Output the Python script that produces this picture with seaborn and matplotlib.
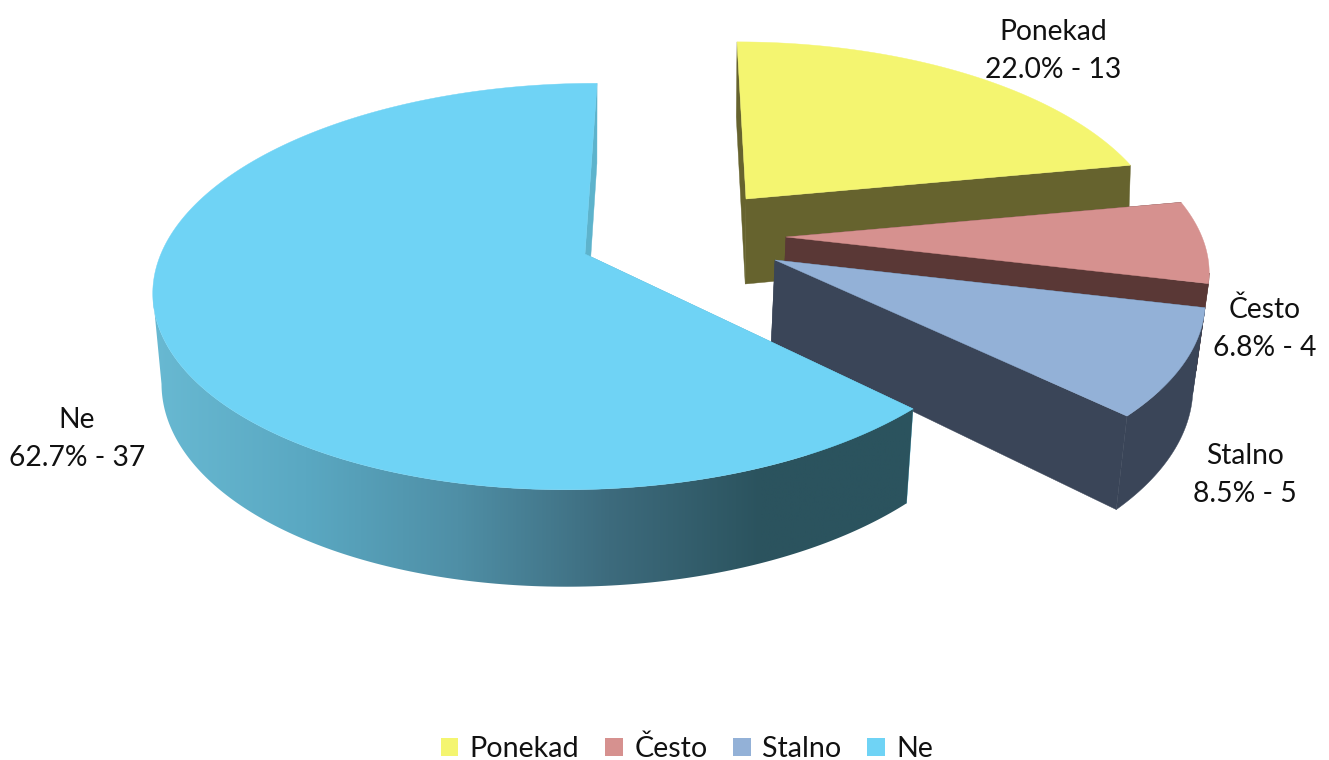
import numpy as np
import matplotlib
matplotlib.use('Agg')
import matplotlib.pyplot as plt
from matplotlib.patches import Patch, Polygon
import seaborn as sns

# Data
labels = ['Ponekad', 'Često', 'Stalno', 'Ne']
counts = [13, 4, 5, 37]

# Colours
face_colors = ['#F4F570', '#D6918F', '#93B1D7', '#6FD3F5']
wall_colors = ['#66632E', '#5A3836', '#3A4558', '#5DB3CC']
ne_wall_ramp = ['#68B9D2', '#5AA8C2', '#4F8FA6', '#3D6B7D', '#2B535E', '#2B535E']

# Perspective of every slice: apex (px), radii, depth, shear, side lean, wall height
apex_x = [746, 786, 775, 585]
apex_y = [199, 237, 260, 254]
rad_x = [408, 416, 421, 422]
rad_y = [189, 191, 191, 198]
depth_k = [0.203, 0.115, 0.21, 0.16]
shear = [-10.8, -29, 1.7, 14]
lean = [0, 0, 0, 0.005]
wall_mid = [85, 84, 83, 88.5]
wall_slope = [10, 12, 15, 8.5]
wall_lean = [0.005, 0.02, 0.02, 0.02]

# Label centres (px)
label_x = [1053, 1265, 1245, 77]
label_y = [51, 329, 475, 439]

sns.set_theme(style='white')
plt.rcParams['font.family'] = ['Lato', 'DejaVu Sans']


def project(i, t):
    u, v = np.sin(t), np.cos(t)
    w = 1 / (1 + depth_k[i] * v + lean[i] * u)
    x = apex_x[i] + (rad_x[i] * u + shear[i] * v) * w
    y = apex_y[i] - rad_y[i] * v * w
    return x, y


def lower(i, x, y, v):
    # walls drop towards a point under the chart, so they lean in a little
    h = wall_mid[i] - wall_slope[i] * v
    return x - (x - 590) * wall_lean[i], y + h


fig = plt.figure(figsize=(13.29, 7.6), dpi=100, facecolor='white')
ax = fig.add_axes([0, 0, 1, 1])

total = sum(counts)
edges = np.concatenate([[0], np.cumsum(counts)]) / total * 2 * np.pi


def cut_wall(i, x0, y0, bx0, by0, z):
    ax0, ay0 = apex_x[i], apex_y[i]
    abx, aby = lower(i, ax0, ay0, 0)
    ax.add_patch(Polygon([(ax0, ay0), (x0, y0), (bx0, by0), (abx, aby)],
                         closed=True, fc=wall_colors[i], ec=wall_colors[i], lw=0.3, zorder=z))


for i in range(len(counts)):
    base = (i + 1) * 10
    t = np.linspace(edges[i], edges[i + 1], 300)
    x, y = project(i, t)
    bx, by = lower(i, x, y, np.cos(t))

    cut_wall(i, x[0], y[0], bx[0], by[0], base)

    # outer wall, only the part turned to the viewer; Ne carries a left to right shading
    front = np.gradient(x) < 0
    if front.sum() > 1:
        outline = list(zip(x[front], y[front])) + list(zip(bx[front][::-1], by[front][::-1]))
        if labels[i] == 'Ne':
            cmap = sns.blend_palette(ne_wall_ramp, as_cmap=True)
            clip = Polygon(outline, closed=True, transform=ax.transData, fc='none', ec='none')
            ax.add_patch(clip)
            im = ax.imshow(np.linspace(0, 1, 256).reshape(1, -1), cmap=cmap, aspect='auto',
                           extent=(x[front].min(), x[front].max(), by.max(), y[front].min()),
                           zorder=base + 1)
            im.set_clip_path(clip)
        else:
            ax.add_patch(Polygon(outline, closed=True, fc=wall_colors[i], ec=wall_colors[i],
                                 lw=0.3, zorder=base + 1))

    cut_wall(i, x[-1], y[-1], bx[-1], by[-1], base + 2)

    # top face
    pts = [(apex_x[i], apex_y[i])] + list(zip(x, y))
    ax.add_patch(Polygon(pts, closed=True, fc=face_colors[i], ec=face_colors[i], lw=0.3, zorder=base + 3))

    pct = counts[i] / total * 100
    ax.text(label_x[i], label_y[i], f'{labels[i]}\n{pct:.1f}% - {counts[i]}',
            ha='center', va='center', fontsize=20.3, color='#111111', linespacing=1.58, zorder=100)

ax.set_xlim(0, 1329)
ax.set_ylim(760, 0)
ax.axis('off')

handles = [Patch(fc=c, ec='none') for c in face_colors]
ax.legend(handles, labels, loc='center', bbox_to_anchor=(687 / 1329, 1 - 749 / 760), ncol=4,
          frameon=False, fontsize=20.6, handlelength=0.62, handleheight=0.62,
          handletextpad=0.4, columnspacing=0.9, labelcolor='#111111')

fig.savefig('out.png', dpi=100, facecolor='white')
